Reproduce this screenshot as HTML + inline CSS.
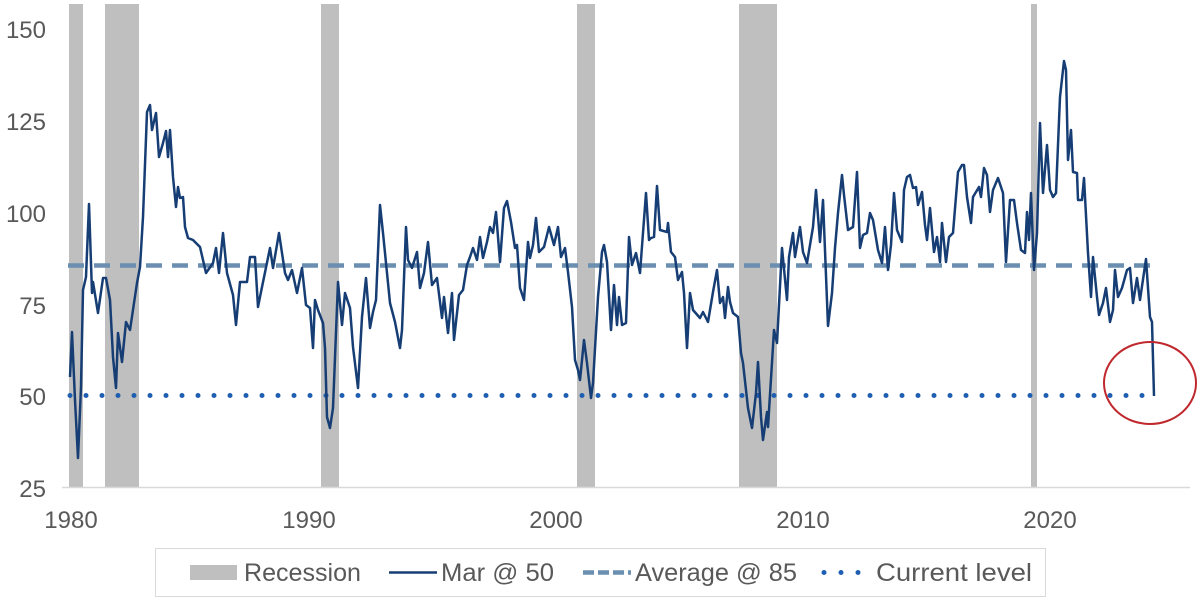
<!DOCTYPE html>
<html><head><meta charset="utf-8"><style>
body{margin:0;background:#fff;}
svg text{font-family:"Liberation Sans",sans-serif;fill:#595959;}
</style></head><body>
<svg width="1200" height="600" viewBox="0 0 1200 600" xmlns="http://www.w3.org/2000/svg">
<g fill="#bfbfbf">
<rect x="69" y="4" width="14" height="483"/>
<rect x="105" y="4" width="34" height="483"/>
<rect x="321" y="4" width="18" height="483"/>
<rect x="577" y="4" width="18" height="483"/>
<rect x="739" y="4" width="38" height="483"/>
<rect x="1031" y="4" width="6" height="483"/>
</g>
<line x1="62" y1="487.5" x2="1190" y2="487.5" stroke="#d9d9d9" stroke-width="1.5"/>
<g font-size="24" text-anchor="end">
<text x="46" y="38">150</text><text x="46" y="130">125</text><text x="46" y="222">100</text><text x="46" y="314">75</text><text x="46" y="405">50</text><text x="46" y="497">25</text>
</g>
<g font-size="24" text-anchor="middle">
<text x="71" y="528">1980</text><text x="309" y="528">1990</text><text x="556" y="528">2000</text><text x="803" y="528">2010</text><text x="1050" y="528">2020</text>
</g>
<line x1="68" y1="265.5" x2="1160" y2="265.5" stroke="#6a8fb0" stroke-width="4.5" stroke-dasharray="16,10"/>
<line x1="70" y1="395.5" x2="1150" y2="395.5" stroke="#1f5fb3" stroke-width="5" stroke-linecap="round" stroke-dasharray="0,16"/>
<polyline fill="none" stroke="#163e74" stroke-width="2.5" stroke-linejoin="round" points="70,377 72,332 75,400 78,458 81,387 83,290 86,277 89,204 92,293 93,282 98,313 103,278 106,278 110,300 113,357 116,388 118,333 122,362 126,322 130,330 137,283 140,267 143,217 147,112 150,105 152,130 156,113 159,157 163,143 166,131 168,157 170,130 173,177 176,207 178,187 180,198 183,197 185,227 188,238 193,240 200,247 203,260 206,273 213,263 216,248 219,273 223,233 227,273 233,295 236,325 240,282 247,282 250,257 255,257 258,307 262,287 270,248 273,268 279,233 285,273 288,280 292,270 297,293 302,268 306,305 310,308 313,348 315,300 318,310 323,323 325,348 327,417 330,428 333,408 338,282 342,325 345,293 350,308 353,347 358,388 362,317 366,278 370,328 373,312 376,300 380,205 383,233 387,273 390,303 395,322 400,348 402,330 406,227 408,260 412,268 417,252 420,288 424,273 428,242 432,285 437,278 442,318 444,297 448,333 452,293 454,340 459,295 463,290 467,265 470,257 473,248 477,260 480,237 483,258 487,242 490,227 493,233 496,212 500,262 504,208 507,201 511,222 515,248 517,245 520,288 524,300 528,242 530,258 533,245 536,218 539,252 544,247 549,227 554,245 558,227 561,257 565,248 568,272 572,307 575,360 578,370 580,380 584,340 587,363 591,398 593,383 598,297 602,252 604,245 607,262 611,330 614,285 617,325 619,297 622,325 626,323 629,237 632,265 636,253 640,273 646,193 649,240 651,238 654,237 657,186 660,230 667,232 668,223 671,252 675,257 678,280 682,272 684,293 687,348 690,293 693,310 700,318 703,312 708,322 713,292 717,270 720,303 723,297 725,318 728,287 730,302 733,313 738,317 741,353 743,363 748,408 752,428 756,393 758,362 761,417 763,440 767,412 768,427 774,330 777,343 782,248 787,300 789,257 793,233 795,257 800,227 803,252 807,263 813,227 816,190 820,242 823,200 828,326 832,293 835,248 838,213 842,175 844,195 848,230 853,227 857,172 860,248 863,235 867,233 870,213 873,220 878,250 882,263 885,227 888,270 891,245 894,193 897,230 902,242 904,190 907,177 910,175 913,188 916,187 918,205 922,192 925,225 927,240 930,208 934,252 937,237 940,262 942,223 946,262 949,237 953,233 958,172 962,165 964,165 967,197 971,223 973,197 979,187 981,197 984,168 987,175 990,212 993,190 998,178 1003,193 1006,262 1010,200 1014,200 1017,223 1021,250 1025,253 1027,212 1029,240 1031,193 1034,270 1037,233 1040,123 1043,193 1047,145 1050,190 1053,197 1056,193 1060,97 1064,61 1066,70 1068,160 1071,130 1073,172 1077,173 1078,200 1082,200 1084,178 1088,253 1091,297 1093,257 1097,297 1099,315 1103,303 1106,288 1110,322 1113,310 1115,270 1118,297 1122,288 1127,270 1130,268 1133,303 1137,278 1140,300 1146,259 1150,317 1152,322 1154,396"/>
<ellipse cx="1150" cy="383" rx="46" ry="41" fill="none" stroke="#c0282d" stroke-width="2"/>
<rect x="155.5" y="548.5" width="890" height="48" fill="#fff" stroke="#d9d9d9" stroke-width="1"/>
<rect x="190" y="565" width="47" height="15" fill="#bfbfbf"/>
<text x="244" y="581" font-size="25" textLength="117" lengthAdjust="spacingAndGlyphs">Recession</text>
<line x1="389" y1="572.5" x2="437" y2="572.5" stroke="#163e74" stroke-width="2.5"/>
<text x="441" y="581" font-size="25" textLength="113" lengthAdjust="spacingAndGlyphs">Mar @ 50</text>
<line x1="583" y1="572.5" x2="631" y2="572.5" stroke="#6a8fb0" stroke-width="4.5" stroke-dasharray="11,4"/>
<text x="635" y="581" font-size="25" textLength="162" lengthAdjust="spacingAndGlyphs">Average @ 85</text>
<line x1="824" y1="572.5" x2="860" y2="572.5" stroke="#1f5fb3" stroke-width="5" stroke-linecap="round" stroke-dasharray="0,17"/>
<text x="876" y="581" font-size="25" textLength="156" lengthAdjust="spacingAndGlyphs">Current level</text>
</svg>
</body></html>
